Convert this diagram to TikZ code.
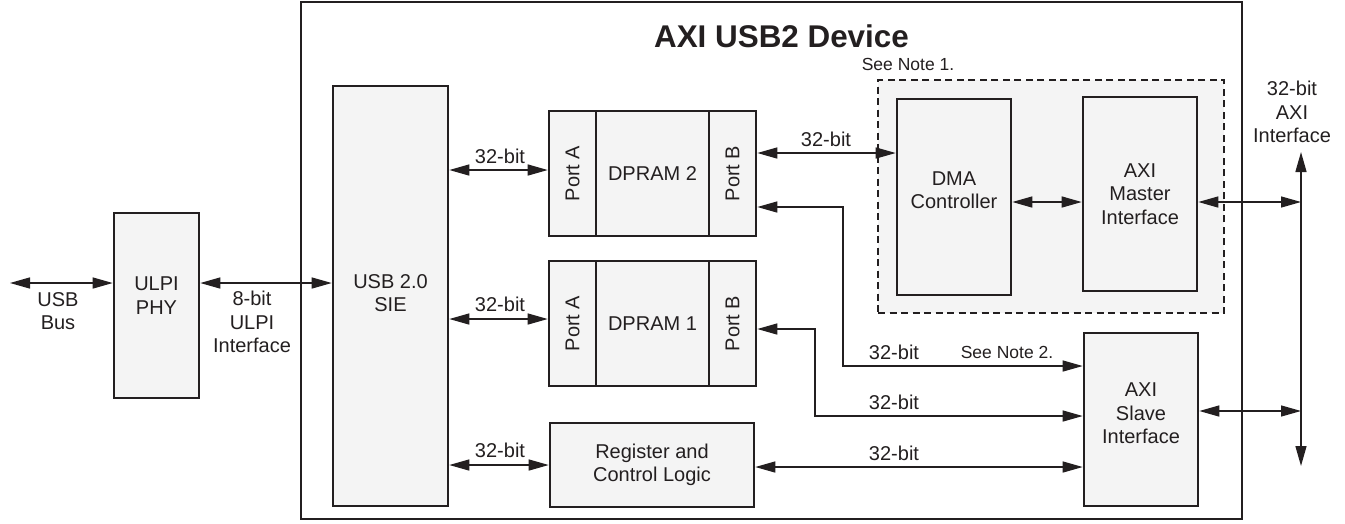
\documentclass[tikz,border=0pt]{standalone}
\usepackage{fontspec}
\setmainfont{Liberation Sans}
\usetikzlibrary{arrows.meta}
\definecolor{boxfill}{HTML}{F4F4F4}
\definecolor{ink}{HTML}{231F20}
\begin{document}
\begin{tikzpicture}[x=1pt,y=-1pt,
  every node/.style={text=ink, font=\fontsize{20}{23.5}\selectfont, align=center, inner sep=0pt},
  blk/.style 2 args={draw=ink, line width=2.6pt, fill=boxfill, minimum width=#1, minimum height=#2},
  con/.style={draw=ink, line width=1.4pt},
  tip/.tip={Triangle[length=20pt,width=11pt]},
  biarrow/.style={con, tip-tip},
  small/.style={font=\fontsize{17.5}{21}\selectfont}
]
\useasboundingbox (0,0) rectangle (1345,523);
% outer device box
\node[draw=ink, line width=2.2pt, fill=white, minimum width=941, minimum height=517] (dev) at (771.5,260.5) {};
\node[font=\bfseries\fontsize{31.4}{36}\selectfont] (title) at (781.5,36) {AXI USB2 Device};
% dashed DMA region
\node[draw=ink, dashed, dash pattern=on 7pt off 4.5pt, line width=2.3pt, fill=boxfill, minimum width=346, minimum height=233] (note1) at (1051,196.5) {};
\node[small] (note1lbl) at (908,64) {See Note 1.};
% blocks
\node[blk={85}{185}, label={[name=ulpitxt, yshift=10pt]center:{ULPI\\PHY}}] (ulpi) at (156.5,305.5) {};
\node[blk={115}{420}, label={[name=sietxt, yshift=3pt]center:{USB 2.0\\SIE}}] (sie) at (390.5,296) {};
\node[blk={125}{47}, rotate=90] (p2a) at (572.5,173.5) {Port A};
\node[blk={113}{125}] (d2) at (652.5,173.5) {DPRAM 2};
\node[blk={125}{47}, rotate=90] (p2b) at (732.5,173.5) {Port B};
\node[blk={125}{47}, rotate=90] (p1a) at (572.5,323.5) {Port A};
\node[blk={113}{125}] (d1) at (652.5,323.5) {DPRAM 1};
\node[blk={125}{47}, rotate=90] (p1b) at (732.5,323.5) {Port B};
\node[blk={204}{84}] (reg) at (652,465) {Register and\\Control Logic};
\node[blk={114}{196}, label={[name=dmatxt, yshift=7pt]center:{DMA\\Controller}}] (dma) at (954,197) {};
\node[blk={114}{194}] (master) at (1140,194) {AXI\\Master\\Interface};
\node[blk={114}{173}, label={[name=slavetxt, yshift=6pt]center:{AXI\\Slave\\Interface}}] (slave) at (1141,419.5) {};
% free ends
\coordinate (usbend) at (10,283);
\coordinate (bustop) at (1301,152);
\coordinate (busbot) at (1301,466);
% connectors
\draw[biarrow] (usbend) -- (ulpi.west |- usbend);
\draw[biarrow] (ulpi.east |- 0,283) -- (sie.west |- 0,283);
\draw[biarrow] (sie.east |- 0,170) -- (p2a.north |- 0,170);
\draw[biarrow] (sie.east |- 0,319) -- (p1a.north |- 0,319);
\draw[biarrow] (sie.east |- 0,465) -- (reg.west |- 0,465);
\draw[biarrow] (p2b.south |- 0,153) -- (dma.west |- 0,153);
\draw[biarrow] (p2b.south |- 0,207) -- (843,207) -- (843,366) -- (slave.west |- 0,366);
\draw[biarrow] (p1b.south |- 0,329) -- (815,329) -- (815,416) -- (slave.west |- 0,416);
\draw[biarrow] (reg.east |- 0,467) -- (slave.west |- 0,467);
\draw[biarrow] (dma.east |- 0,202) -- (master.west |- 0,202);
\draw[biarrow] (master.east |- 0,202) -- (bustop |- 0,202);
\draw[biarrow] (slave.east |- 0,411) -- (bustop |- 0,411);
\draw[biarrow] (bustop) -- (busbot);
% labels
\node (lusb) at (58,311) {USB\\Bus};
\node (lulpi) at (252,322) {8-bit\\ULPI\\Interface};
\node (l1) at (500,156) {32-bit};
\node (l2) at (500,304) {32-bit};
\node (l3) at (500,450) {32-bit};
\node (l4) at (826,139) {32-bit};
\node (l5) at (894,352) {32-bit};
\node[small] (note2) at (1007,352) {See Note 2.};
\node (l6) at (894,402) {32-bit};
\node (l7) at (894,453) {32-bit};
\node (laxi) at (1292,112) {32-bit\\AXI\\Interface};
\end{tikzpicture}
\end{document}
